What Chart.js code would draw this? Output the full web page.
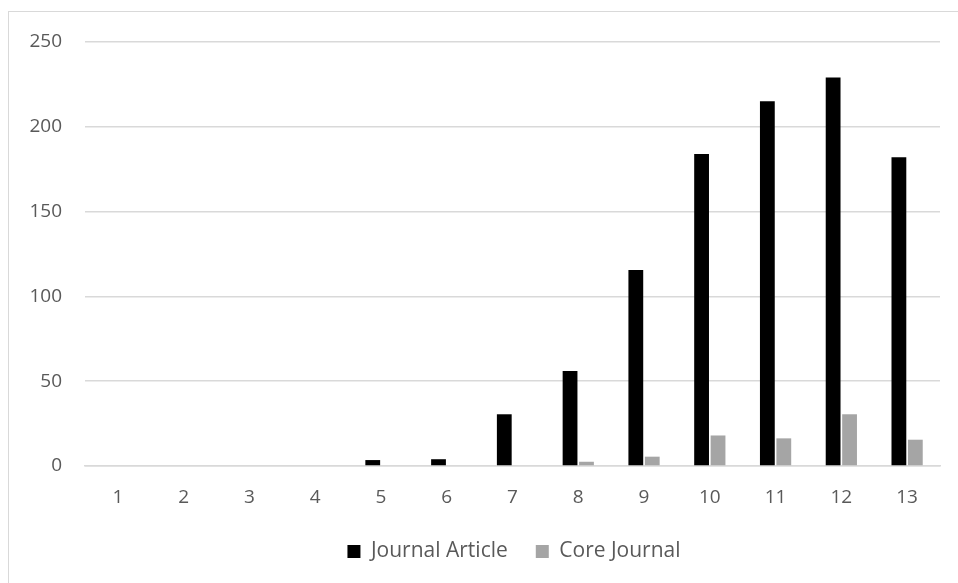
<!DOCTYPE html>
<html>
<head>
<meta charset="utf-8">
<script src="https://cdn.jsdelivr.net/npm/chart.js@4"></script>
<style>
    body { margin: 0; background: #fff; }
    #wrap { position: absolute; left: 0; top: 0; width: 958px; height: 583px; }
    #frame {
        position: absolute; left: 8px; top: 11px; width: 980px; height: 600px;
        border-left: 1.5px solid #d9d9d9; border-top: 1.5px solid #d9d9d9;
    }
</style>
</head>
<body>
<div id="frame"></div>
<div id="wrap"><canvas id="chart" width="958" height="583"></canvas></div>
<script>
const categories = ['1', '2', '3', '4', '5', '6', '7', '8', '9', '10', '11', '12', '13'];
const journalArticle = [0, 0, 0, 0, 3.5, 4, 30.5, 56, 115.5, 184, 215, 229, 182];
const coreJournal = [0, 0, 0, 0, 0, 0, 0, 2.5, 5.5, 18, 16.3, 30.5, 15.5];
const yTicks = [0, 50, 100, 150, 200, 250];

Chart.defaults.font.family = "'Open Sans', sans-serif";
Chart.defaults.font.size = 19;
Chart.defaults.color = '#595959';

// the legend sits centred under the whole frame, a bit right of the plot centre
const legendShift = {
    id: 'legendShift',
    afterLayout: function(chart) {
        chart.legend.left += 44;
        chart.legend.right += 44;
    }
};

const ctx = document.getElementById('chart').getContext('2d');

new Chart(ctx, {
    type: 'bar',
    data: {
        labels: categories,
        datasets: [{
            label: 'Journal Article',
            data: journalArticle,
            backgroundColor: '#000000',
            categoryPercentage: 0.5,
            barPercentage: 0.9
        }, {
            label: 'Core Journal',
            data: coreJournal,
            backgroundColor: '#a5a5a5',
            categoryPercentage: 0.5,
            barPercentage: 0.9
        }]
    },
    options: {
        responsive: false,
        animation: false,
        layout: { padding: { left: 0, right: 18, top: 42, bottom: 11 } },
        plugins: {
            legend: {
                position: 'bottom',
                labels: {
                    boxWidth: 13,
                    boxHeight: 13,
                    padding: 28,
                    color: '#595959',
                    font: { size: 21 }
                }
            },
            tooltip: { enabled: false }
        },
        scales: {
            x: {
                grid: { display: false, drawTicks: false },
                border: { display: true, color: '#d9d9d9', width: 1.5 },
                ticks: { padding: 20, color: '#595959' },
                afterFit: function(scale) { scale.height = 47; }
            },
            y: {
                min: 0,
                max: 250,
                afterBuildTicks: function(scale) {
                    scale.ticks = yTicks.map(function(v) { return { value: v }; });
                },
                grid: { color: '#d9d9d9', lineWidth: 1.5, drawTicks: false },
                border: { display: false },
                ticks: { padding: 23, color: '#595959' },
                afterFit: function(scale) { scale.width = 85; }
            }
        }
    },
    plugins: [legendShift]
});
</script>
</body>
</html>
